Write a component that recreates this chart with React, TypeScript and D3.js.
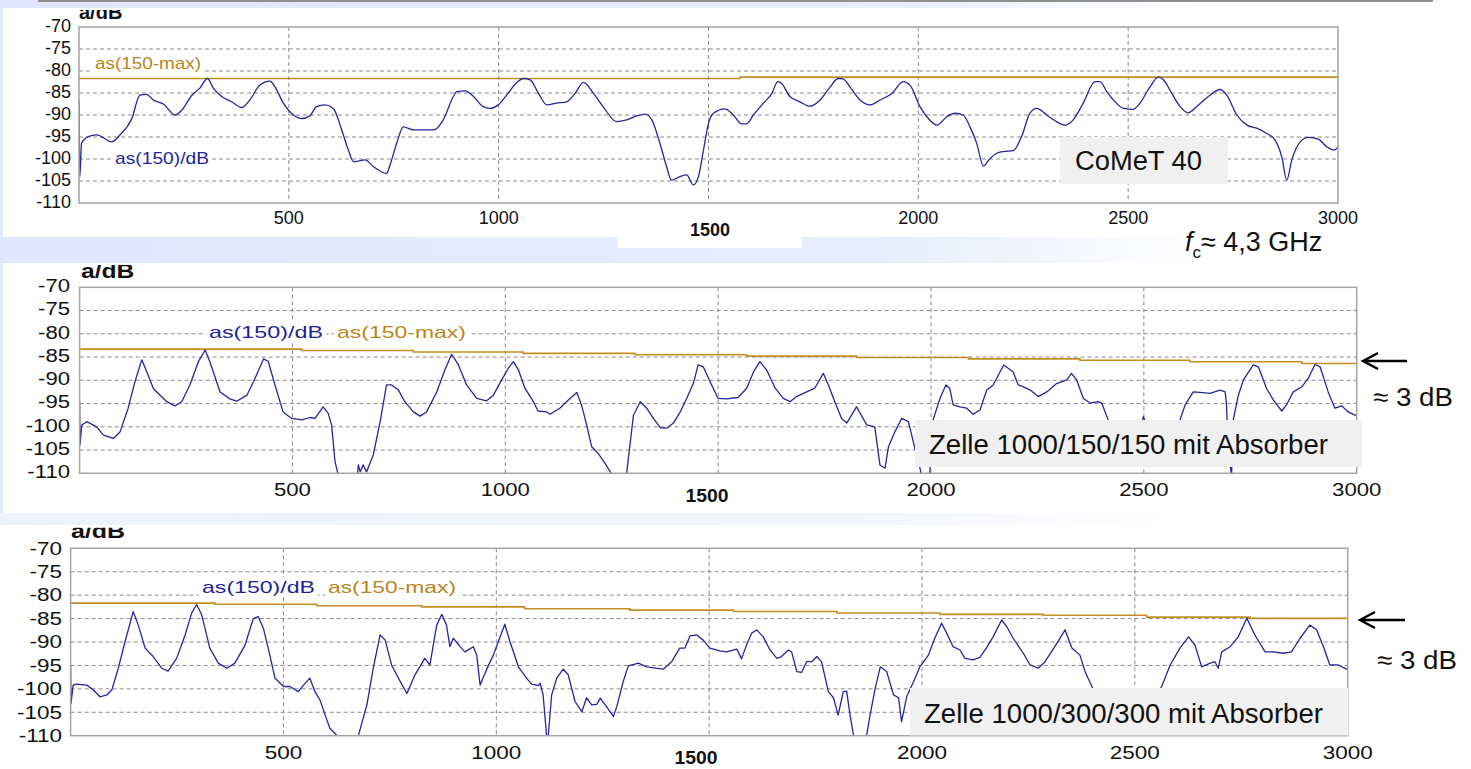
import React from 'react';
import * as d3 from 'd3';

type P = [number, number];

// ---------- axis / tick data ----------
const xTickValues = [500, 1000, 2000, 2500, 3000];
const xGridValues = [500, 1000, 1500, 2000, 2500];
const yTickValues = [-70, -75, -80, -85, -90, -95, -100, -105, -110];
const yGridValues = [-75, -80, -85, -90, -95, -100, -105];
const xDomain: P = [0, 3000];
const yDomain: P = [-110, -70];
const boldTickLabel = '1500';

// ---------- series: CoMeT 40 ----------
const comet40: P[] = [
  [0,-86.6],[2,-104.0],[6,-96.4],[22,-94.9],[42,-94.5],[78,-96.1],[98,-94.5],[126,-90.8],[145,-85.5],[161,-85.3],
  [177,-86.6],[201,-87.5],[229,-90.0],[245,-88.9],[269,-85.5],[288,-83.9],[306,-81.7],[320,-83.9],[340,-85.8],[364,-87.0],
  [388,-88.3],[407,-86.6],[431,-83.2],[455,-82.3],[467,-83.6],[487,-87.3],[511,-90.0],[531,-90.8],[550,-90.2],[566,-88.1],
  [586,-87.7],[606,-88.5],[626,-93.4],[642,-98.0],[654,-100.6],[682,-100.2],[701,-101.7],[721,-102.9],[733,-103.3],[741,-101.4],
  [757,-96.4],[773,-92.7],[797,-93.4],[825,-93.4],[845,-93.4],[868,-91.1],[892,-85.8],[900,-84.7],[920,-84.5],[940,-85.8],
  [963,-88.1],[979,-88.5],[999,-87.7],[1019,-85.5],[1043,-82.6],[1059,-81.7],[1075,-82.0],[1095,-85.1],[1115,-87.7],[1138,-87.3],
  [1162,-87.0],[1182,-85.1],[1202,-82.6],[1226,-85.1],[1249,-88.1],[1281,-91.5],[1305,-91.1],[1329,-90.2],[1349,-89.8],[1365,-91.1],
  [1377,-94.2],[1389,-98.0],[1400,-101.7],[1412,-104.8],[1432,-104.0],[1448,-103.6],[1464,-105.9],[1476,-104.0],[1488,-98.0],[1500,-91.9],
  [1512,-89.6],[1539,-88.6],[1559,-90.0],[1579,-92.0],[1591,-92.0],[1607,-90.0],[1631,-87.3],[1651,-85.1],[1665,-82.4],[1674,-82.8],
  [1694,-85.8],[1718,-87.0],[1742,-88.0],[1766,-86.6],[1790,-83.6],[1809,-81.7],[1821,-81.8],[1837,-83.6],[1861,-86.6],[1885,-87.7],
  [1909,-86.6],[1937,-85.1],[1964,-82.4],[1980,-83.2],[2004,-88.1],[2024,-90.8],[2044,-92.3],[2068,-90.4],[2088,-89.6],[2107,-90.0],
  [2123,-92.7],[2139,-96.4],[2155,-101.6],[2168,-100.2],[2187,-98.7],[2203,-98.3],[2226,-98.1],[2246,-94.9],[2266,-89.6],[2282,-88.5],
  [2306,-90.0],[2326,-91.3],[2350,-92.3],[2369,-91.1],[2393,-87.3],[2421,-82.4],[2433,-82.4],[2449,-84.7],[2465,-86.6],[2489,-88.5],
  [2512,-88.7],[2528,-87.3],[2552,-83.6],[2572,-81.4],[2584,-82.0],[2604,-85.1],[2624,-88.1],[2643,-89.5],[2663,-88.1],[2695,-85.5],
  [2719,-84.2],[2735,-85.5],[2759,-90.0],[2783,-92.3],[2806,-93.0],[2830,-94.2],[2850,-95.7],[2866,-99.5],[2878,-104.8],[2890,-100.2],
  [2910,-96.1],[2930,-95.1],[2953,-95.5],[2973,-97.2],[2991,-98.0],[3000,-97.2],
];
const comet40Max: P[] = [[0,-81.7],[1575,-81.4],[3000,-81.4]];

// ---------- series: Zelle 1000/150/150 ----------
const zelle150: P[] = [
  [0,-94.6],[1,-103.9],[5,-99.6],[17,-98.9],[40,-100.0],[56,-101.8],[79,-102.5],[95,-101.1],[114,-96.0],[130,-90.3],
  [146,-85.6],[158,-88.2],[173,-91.7],[189,-93.2],[205,-94.6],[224,-95.5],[240,-94.6],[259,-91.0],[279,-86.0],[295,-83.5],
  [306,-86.0],[330,-92.5],[353,-94.0],[369,-94.5],[393,-93.2],[412,-89.6],[432,-85.4],[443,-85.9],[459,-91.0],[478,-96.8],
  [498,-98.2],[522,-98.5],[541,-98.0],[553,-98.2],[572,-95.7],[584,-97.1],[592,-99.6],[600,-107.5],[608,-110.5],[620,-116],
  [645,-116],[655,-108.2],[659,-109.7],[666,-108.2],[674,-109.7],[690,-106.0],[706,-98.9],[721,-91.0],[733,-91.0],[749,-92.1],
  [764,-94.6],[784,-96.8],[800,-97.7],[815,-96.8],[839,-92.5],[858,-87.8],[874,-84.4],[890,-86.7],[909,-91.0],[933,-93.9],
  [956,-94.4],[972,-93.2],[988,-90.5],[1007,-87.4],[1019,-86.0],[1031,-87.8],[1046,-91.7],[1066,-94.6],[1077,-96.6],[1097,-96.8],
  [1105,-97.3],[1128,-96.0],[1152,-93.9],[1168,-92.6],[1179,-95.3],[1191,-99.6],[1203,-104.3],[1218,-105.7],[1234,-107.8],[1250,-110.2],
  [1262,-114],[1278,-114],[1285,-110],[1301,-97.5],[1317,-94.6],[1332,-96.0],[1348,-98.2],[1364,-100.2],[1379,-100.3],[1395,-99.2],
  [1411,-96.8],[1426,-93.9],[1442,-90.6],[1453,-86.7],[1465,-87.1],[1481,-90.3],[1500,-93.9],[1520,-94.0],[1547,-93.7],[1567,-91.7],
  [1583,-88.2],[1598,-86.0],[1614,-87.8],[1634,-91.7],[1653,-93.9],[1669,-94.6],[1684,-93.5],[1708,-92.5],[1727,-91.7],[1747,-88.5],
  [1759,-91.0],[1774,-94.6],[1790,-98.2],[1802,-99.2],[1825,-95.7],[1849,-99.6],[1868,-100.0],[1880,-108.2],[1892,-108.9],[1900,-104.3],
  [1915,-101.1],[1931,-98.2],[1947,-98.9],[1962,-104.6],[1974,-108.9],[1985,-113],[1995,-113],[2005,-98.5],[2021,-93.9],[2035,-91.0],
  [2044,-91.7],[2052,-95.3],[2068,-95.7],[2084,-96.0],[2099,-97.3],[2115,-96.4],[2131,-92.1],[2146,-91.0],[2162,-88.2],[2171,-86.7],
  [2193,-88.2],[2205,-91.0],[2217,-91.4],[2233,-92.1],[2252,-93.5],[2272,-92.5],[2295,-90.7],[2319,-89.9],[2330,-88.5],[2342,-89.9],
  [2358,-93.9],[2374,-94.9],[2393,-94.6],[2401,-94.9],[2416,-98.5],[2440,-103],[2470,-107],[2490,-101],[2499,-97.8],[2510,-101],
  [2540,-106],[2565,-103],[2585,-98.5],[2597,-95.3],[2616,-92.5],[2632,-92.6],[2655,-92.8],[2679,-92.1],[2691,-92.5],[2694,-95],
  [2698,-105],[2706,-110.5],[2710,-98.5],[2722,-93.2],[2734,-89.9],[2757,-86.7],[2769,-87.1],[2788,-91.7],[2804,-94.2],[2824,-96.6],
  [2835,-95.3],[2851,-92.5],[2871,-91.4],[2886,-89.6],[2902,-86.6],[2914,-87.1],[2933,-92.5],[2949,-96.0],[2965,-95.5],[2980,-96.8],
  [2996,-97.5],[3000,-97.5],
];
const zelle150Max: P[] = [
  [0,-83.3],[522,-83.6],[784,-83.9],[1042,-84.2],[1305,-84.5],[1567,-84.8],[1825,-85.1],[2088,-85.4],[2350,-85.7],[2608,-86.0],[2871,-86.4],[3000,-86.4],
];

// ---------- series: Zelle 1000/300/300 ----------
const zelle300: P[] = [
  [0,-94.9],[1,-103.1],[6,-99.2],[14,-99.0],[38,-99.2],[53,-100.2],[69,-101.7],[85,-101.3],[97,-100.2],[112,-95.6],
  [128,-89.9],[147,-83.5],[159,-86.4],[175,-91.3],[194,-93.1],[214,-95.6],[229,-96.2],[249,-93.5],[269,-88.5],[284,-83.9],
  [296,-82.0],[308,-84.2],[327,-91.3],[347,-94.5],[367,-95.6],[386,-94.5],[410,-90.6],[429,-85.0],[441,-84.6],[453,-87.1],
  [468,-92.8],[480,-97.7],[500,-99.5],[515,-99.5],[535,-100.6],[547,-99.2],[562,-97.7],[574,-100.6],[586,-102.4],[598,-105.6],
  [609,-108.4],[625,-109.9],[635,-114],[665,-114],[676,-110],[696,-103.4],[711,-95.6],[727,-88.5],[739,-89.6],[754,-94.9],
  [770,-97.7],[790,-101.0],[809,-97.0],[832,-93.5],[844,-94.9],[860,-86.4],[872,-84.1],[883,-86.4],[891,-91.0],[899,-89.2],
  [915,-91.0],[926,-92.1],[946,-91.0],[954,-92.8],[962,-99.2],[977,-95.9],[993,-92.8],[1009,-88.9],[1020,-86.2],[1032,-89.9],
  [1052,-95.3],[1071,-97.7],[1083,-99.0],[1099,-99.3],[1103,-98.8],[1110,-101.3],[1118,-109.9],[1120,-114],[1122,-110],[1130,-101.3],
  [1142,-97.7],[1157,-95.8],[1169,-97.0],[1185,-102.7],[1201,-104.9],[1212,-101.9],[1224,-103.4],[1236,-103.3],[1244,-102.0],[1259,-103.8],
  [1275,-105.9],[1283,-103.8],[1298,-98.5],[1310,-95.1],[1334,-94.5],[1353,-95.3],[1392,-95.8],[1412,-94.2],[1431,-91.3],[1443,-91.3],
  [1455,-88.7],[1471,-88.5],[1486,-89.6],[1502,-91.3],[1525,-91.9],[1541,-92.1],[1565,-91.5],[1576,-93.6],[1588,-90.6],[1600,-88.1],
  [1612,-87.4],[1627,-88.9],[1643,-91.7],[1659,-93.5],[1670,-93.1],[1686,-91.7],[1694,-92.2],[1706,-96.3],[1717,-96.5],[1729,-94.2],
  [1741,-94.2],[1753,-93.1],[1764,-94.2],[1780,-100.6],[1792,-101.9],[1803,-105.6],[1815,-100.6],[1823,-100.5],[1831,-105.6],[1839,-109.9],
  [1850,-114],[1862,-114],[1870,-109.9],[1878,-105.6],[1890,-99.9],[1902,-95.3],[1917,-96.3],[1933,-101.3],[1945,-101.9],[1952,-107.0],
  [1964,-101.7],[1980,-98.5],[1995,-95.3],[2015,-92.8],[2030,-89.2],[2046,-86.0],[2058,-88.1],[2073,-91.0],[2089,-91.7],[2101,-93.5],
  [2120,-93.8],[2136,-93.3],[2151,-91.3],[2167,-88.9],[2187,-85.3],[2199,-86.7],[2214,-89.2],[2238,-92.4],[2254,-94.9],[2273,-95.6],
  [2289,-94.2],[2312,-91.0],[2336,-87.4],[2352,-91.3],[2371,-92.8],[2383,-96.3],[2399,-99.5],[2420,-104],[2450,-108],[2480,-112],
  [2510,-107],[2540,-103],[2563,-99.5],[2583,-94.9],[2606,-91.3],[2626,-88.9],[2641,-90.6],[2657,-95.3],[2677,-94.5],[2688,-94.2],
  [2696,-95.6],[2704,-92.1],[2724,-91.0],[2743,-88.9],[2763,-84.9],[2782,-88.5],[2806,-92.1],[2825,-92.1],[2849,-92.4],[2868,-92.1],
  [2888,-89.2],[2911,-86.4],[2927,-87.4],[2943,-91.0],[2958,-94.9],[2978,-94.9],[2997,-95.8],[3000,-95.8],
];
const zelle300Max: P[] = [
  [0,-81.7],[339,-81.95],[578,-82.25],[825,-82.5],[1067,-82.9],[1314,-83.2],[1557,-83.5],[1800,-83.8],[2042,-84.1],[2285,-84.3],[2528,-84.7],[2771,-84.95],[3000,-84.95],
];

// ---------- texts ----------
const axisTitle = 'a/dB';
const seriesLabel = 'as(150)/dB';
const maxLabel = 'as(150-max)';
const boxTitles = ['CoMeT 40', 'Zelle 1000/150/150 mit Absorber', 'Zelle 1000/300/300 mit Absorber'];
const diffLabel = '≈ 3 dB';

const NAVY = '#25259c';
const NAVY_TXT = '#1f1f99';
const GOLD = '#c48e22';
const GOLD_TXT = '#b7861a';
const FONT = '"Liberation Sans", Arial, Helvetica, sans-serif';

interface Cfg {
  id: string;
  left: number; right: number; top: number; bottom: number;
  sx: number; yLabelRight: number; yLabelDy: number; xLabelY: number;
  titleX: number; titleY: number; titleClip: number;
  boldX: number; boldY: number; boldW: number;
  sLab: { x: number; y: number; w: number };
  mLab: { x: number; y: number; w: number };
  box: { x: number; y: number; w: number; h: number; tx: number; ty: number; tw: number };
  title: string;
  data: P[]; max: P[]; smooth: boolean;
  arrow?: { x1: number; x2: number; y: number; tx: number; ty: number };
}

const cfgs: Cfg[] = [
  {
    id: 'p1', left: 79, right: 1338, top: 27, bottom: 203, sx: 1.0, yLabelRight: 71, yLabelDy: -1.5, xLabelY: 218,
    titleX: 79, titleY: 18.5, titleClip: 10, boldX: 710, boldY: 230, boldW: 40,
    sLab: { x: 115, y: 158, w: 94 }, mLab: { x: 95, y: 63, w: 106 },
    box: { x: 1060, y: 137, w: 168, h: 47, tx: 1075, ty: 170, tw: 127 },
    title: boxTitles[0], data: comet40, max: comet40Max, smooth: true,
  },
  {
    id: 'p2', left: 79.6, right: 1356.7, top: 287.3, bottom: 473.3, sx: 1.23, yLabelRight: 70, yLabelDy: -1.5, xLabelY: 490,
    titleX: 81, titleY: 277.7, titleClip: 265, boldX: 707, boldY: 496, boldW: 43,
    sLab: { x: 209, y: 332, w: 114 }, mLab: { x: 337, y: 332, w: 129 },
    box: { x: 915, y: 420, w: 447, h: 47, tx: 929, ty: 454, tw: 399 },
    title: boxTitles[1], data: zelle150, max: zelle150Max, smooth: false,
    arrow: { x1: 1363, x2: 1407, y: 361, tx: 1373, ty: 406 },
  },
  {
    id: 'p3', left: 70.6, right: 1347.7, top: 548.3, bottom: 735.7, sx: 1.25, yLabelRight: 62, yLabelDy: 0, xLabelY: 753,
    titleX: 71, titleY: 538.3, titleClip: 527.7, boldX: 696, boldY: 758, boldW: 43,
    sLab: { x: 202, y: 587, w: 113 }, mLab: { x: 328, y: 587, w: 128 },
    box: { x: 910, y: 688, w: 438, h: 47.5, tx: 924, ty: 723, tw: 399 },
    title: boxTitles[2], data: zelle300, max: zelle300Max, smooth: false,
    arrow: { x1: 1360, x2: 1405, y: 620, tx: 1377, ty: 669 },
  },
];

function Panel({ c }: { c: Cfg }) {
  const x = d3.scaleLinear().domain(xDomain).range([c.left, c.right]);
  const y = d3.scaleLinear().domain(yDomain).range([c.bottom, c.top]);
  const line = d3.line<P>().x(d => x(d[0])).y(d => y(d[1])).curve(c.smooth ? d3.curveMonotoneX : d3.curveLinear);
  const step = d3.line<P>().x(d => x(d[0])).y(d => y(d[1])).curve(d3.curveStepAfter);
  const w = c.right - c.left, h = c.bottom - c.top;
  return (
    <g>
      <defs>
        <clipPath id={`clip-${c.id}`}>
          <rect x={c.left} y={c.top} width={w} height={h} />
        </clipPath>
        <clipPath id={`tclip-${c.id}`}>
          <rect x={0} y={c.titleClip} width={400} height={60} />
        </clipPath>
      </defs>
      {yGridValues.map(v => (
        <line key={'gy' + v} x1={c.left} x2={c.right} y1={y(v)} y2={y(v)} stroke="#8a8a8a" strokeWidth={1} strokeDasharray="4,3" />
      ))}
      {xGridValues.map(v => (
        <line key={'gx' + v} x1={x(v)} x2={x(v)} y1={c.top} y2={c.bottom} stroke="#8a8a8a" strokeWidth={1} strokeDasharray="4,3" />
      ))}
      <rect x={c.mLab.x - 3} y={c.mLab.y - 10} width={c.mLab.w + 6} height={19} fill="#fff" />
      <rect x={c.sLab.x - 3} y={c.sLab.y - 10} width={c.sLab.w + 6} height={19} fill="#fff" />
      <text x={c.mLab.x} y={c.mLab.y} dy="0.36em" fontSize={17} fill={GOLD_TXT} fontFamily={FONT}
        textLength={c.mLab.w} lengthAdjust="spacingAndGlyphs">{maxLabel}</text>
      <text x={c.sLab.x} y={c.sLab.y} dy="0.36em" fontSize={17} fill={NAVY_TXT} fontFamily={FONT}
        textLength={c.sLab.w} lengthAdjust="spacingAndGlyphs">{seriesLabel}</text>
      <g clipPath={`url(#clip-${c.id})`}>
        <path d={step(c.max) || ''} fill="none" stroke={GOLD} strokeWidth={1.6} />
        <path d={line(c.data) || ''} fill="none" stroke={NAVY} strokeWidth={1.3} strokeLinejoin="round" />
      </g>
      <rect x={c.left} y={c.top} width={w} height={h} fill="none" stroke="#a3a3a3" strokeWidth={1.5} />
      <rect x={c.box.x} y={c.box.y} width={c.box.w} height={c.box.h} fill="#f0f0f0" />
      <text x={c.box.tx} y={c.box.ty} fontSize={27} fill="#111" fontFamily={FONT}
        textLength={c.box.tw} lengthAdjust="spacingAndGlyphs">{c.title}</text>
      {yTickValues.map(v => (
        <text key={'yt' + v} transform={`translate(${c.yLabelRight},${y(v) + c.yLabelDy}) scale(${c.sx},1)`}
          textAnchor="end" dy="0.35em" fontSize={18} fill="#111" fontFamily={FONT}>{v}</text>
      ))}
      {xTickValues.map(v => (
        <text key={'xt' + v} transform={`translate(${x(v)},${c.xLabelY}) scale(${c.sx},1)`}
          textAnchor="middle" dy="0.35em" fontSize={18} fill="#111" fontFamily={FONT}>{v}</text>
      ))}
      <text x={c.boldX - c.boldW / 2} y={c.boldY} dy="0.35em" fontSize={18} fontWeight="bold" fill="#111" fontFamily={FONT}
        textLength={c.boldW} lengthAdjust="spacingAndGlyphs">{boldTickLabel}</text>
      <g clipPath={`url(#tclip-${c.id})`}>
        <text transform={`translate(${c.titleX},${c.titleY}) scale(${c.sx},1)`} fontSize={20} fontWeight="bold" fill="#111" fontFamily={FONT}>{axisTitle}</text>
      </g>
      {c.arrow && (
        <g>
          <path d={`M${c.arrow.x2},${c.arrow.y} H${c.arrow.x1 + 1} M${c.arrow.x1 + 15},${c.arrow.y - 8} L${c.arrow.x1},${c.arrow.y} L${c.arrow.x1 + 15},${c.arrow.y + 8}`}
            fill="none" stroke="#000" strokeWidth={2.4} />
          <text x={c.arrow.tx} y={c.arrow.ty} fontSize={26} fill="#111" fontFamily={FONT}
            textLength={80} lengthAdjust="spacingAndGlyphs">{diffLabel}</text>
        </g>
      )}
    </g>
  );
}

export default function App() {
  return (
    <svg width={1471} height={769} style={{ position: 'absolute', left: 0, top: 0, display: 'block' }}>
      <defs>
        <linearGradient id="bg" x1="0" x2="1" y1="0" y2="0">
          <stop offset="0" stopColor="#dfe7fb" />
          <stop offset="0.6" stopColor="#e7edfc" />
          <stop offset="0.82" stopColor="#ffffff" />
        </linearGradient>
        <linearGradient id="bg2" x1="0" x2="1" y1="0" y2="0">
          <stop offset="0" stopColor="#eef2fd" />
          <stop offset="0.6" stopColor="#f3f6fe" />
          <stop offset="0.8" stopColor="#ffffff" />
        </linearGradient>
      </defs>
      <rect x={0} y={0} width={1471} height={769} fill="url(#bg)" />
      <rect x={0} y={513} width={1471} height={12} fill="url(#bg2)" />
      <rect x={38} y={0} width={1395} height={2} fill="#8f8f8f" />
      <rect x={3} y={8} width={1468} height={229} fill="#fff" />
      <rect x={617} y={237} width={185} height={11} fill="#fff" />
      <rect x={3} y={263} width={1468} height={250} fill="#fff" />
      <rect x={0} y={525} width={1471} height={244} fill="#fff" />
      {cfgs.map(c => <Panel key={c.id} c={c} />)}
      <text x={1185} y={250.5} fontSize={27} fill="#111" fontFamily={FONT}>
        <tspan fontStyle="italic">f</tspan>
        <tspan fontSize={17} dy={7}>c</tspan>
        <tspan dy={-7}>≈ 4,3 GHz</tspan>
      </text>
    </svg>
  );
}
